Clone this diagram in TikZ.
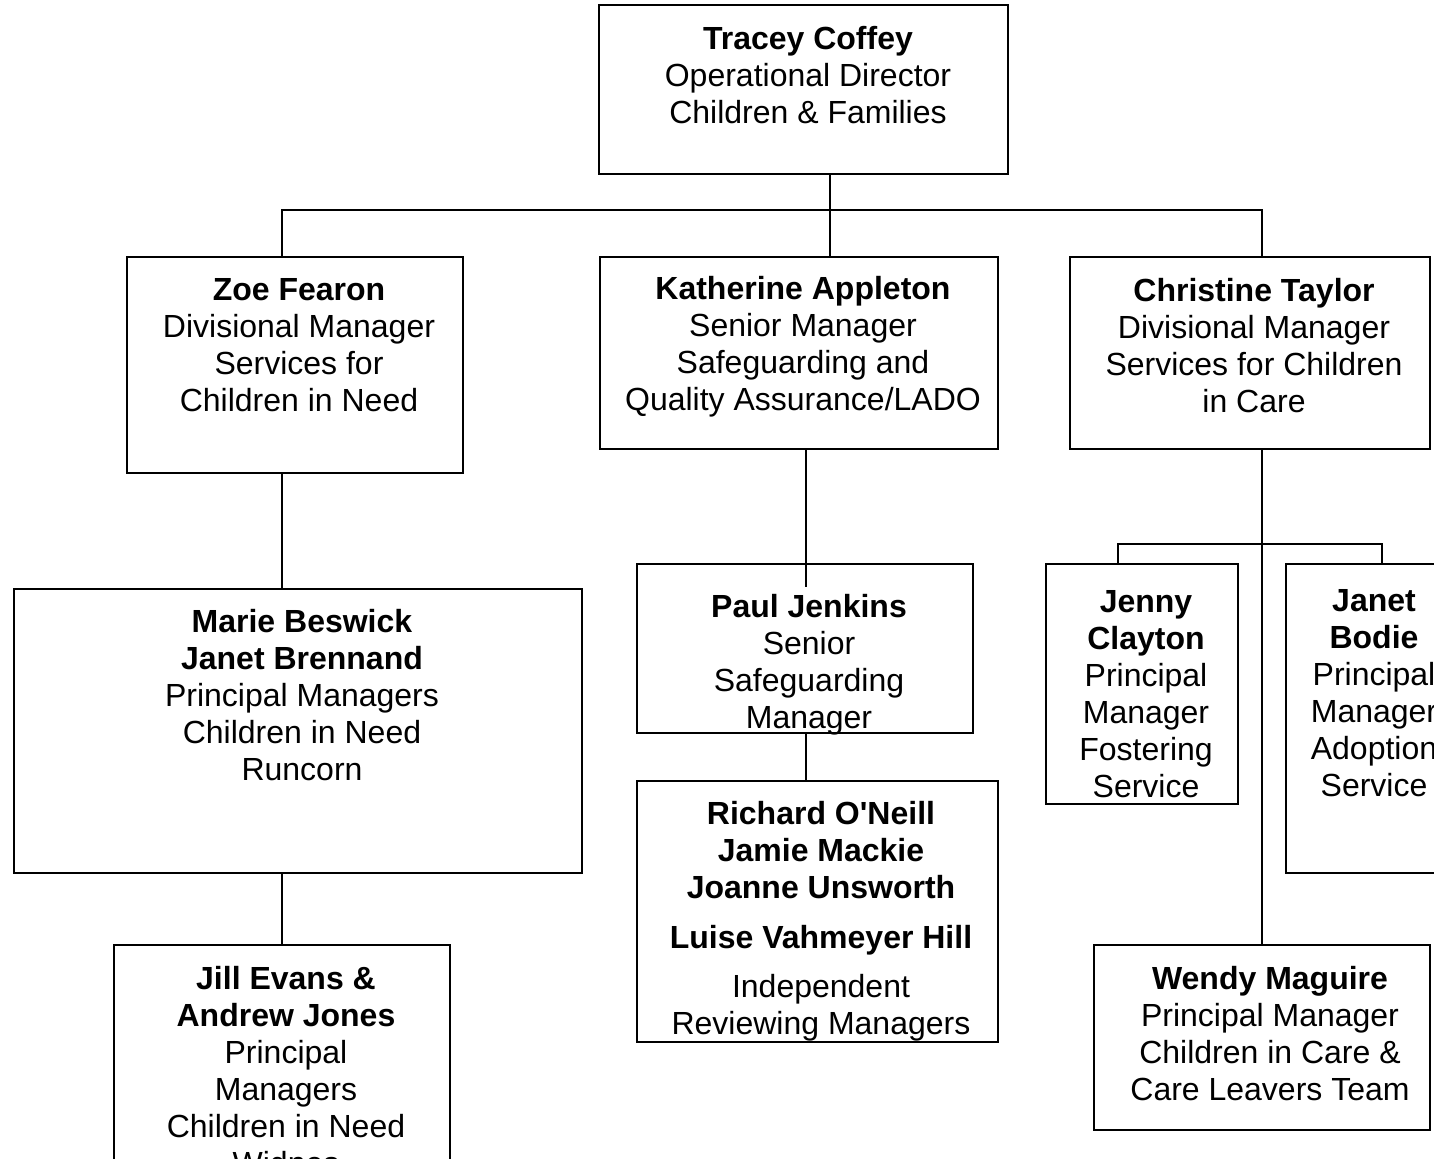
\documentclass[tikz,border=0pt]{standalone}
\usepackage{fontspec}
\setmainfont{Liberation Sans}[Ligatures=TeXOff]
\usetikzlibrary{fit}

\begin{document}
\begin{tikzpicture}[x=0.5pt,y=-0.5pt,line width=1.1pt,
  box/.style={draw,inner sep=0pt,line width=1.1pt},
  txt/.style={align=center,inner sep=0pt,font=\fontsize{16}{18.5}\selectfont}]
  \useasboundingbox (0,0) rectangle (1434,1158);
  \clip (0,0) rectangle (1434,1158);

  % director
  \node[box,fit={(599,5) (1008,174)}] (tracey) {};
  \node[txt] (traceyt) at (808,75) {\textbf{Tracey Coffey}\\Operational Director\\Children \& Families};

  % divisional / senior managers
  \node[box,fit={(127,257) (463,473)}] (zoe) {};
  \node[txt] (zoet) at (299,345) {\textbf{Zoe Fearon}\\Divisional Manager\\Services for\\Children in Need};
  \node[box,fit={(600,257) (998,449)}] (katherine) {};
  \node[txt] (katherinet) at (803,347) {\textbf{Katherine Appleton}\\Senior Manager\\Safeguarding and\\Quality Assurance/LADO};
  \node[box,fit={(1070,257) (1430,449)}] (christine) {};
  \node[txt] (christinet) at (1254,346) {\textbf{Christine Taylor}\\Divisional Manager\\Services for Children\\in Care};

  % children in need branch
  \node[box,fit={(14,589) (582,873)}] (marie) {};
  \node[txt] (mariet) at (302,695) {\textbf{Marie Beswick}\\\textbf{Janet Brennand}\\Principal Managers\\Children in Need\\Runcorn};
  \node[box,fit={(114,945) (450,1220)}] (jill) {};
  \node[txt] (jillt) at (286,1071) {\textbf{Jill Evans \&}\\\textbf{Andrew Jones}\\Principal\\Managers\\Children in Need\\Widnes};

  % safeguarding branch
  \node[box,fit={(637,564) (973,733)}] (paul) {};
  \node[txt] (pault) at (809,665) {\textbf{Paul Jenkins}\\Senior\\Safeguarding\\Manager};
  \node[box,fit={(637,781) (998,1042)}] (richard) {};
  \node[txt] (richardt) at (821,921) {\textbf{Richard O'Neill}\\\textbf{Jamie Mackie}\\\textbf{Joanne Unsworth}\\[6.5pt]\textbf{Luise Vahmeyer Hill}\\[6pt]Independent\\Reviewing Managers};

  % children in care branch
  \node[box,fit={(1046,564) (1238,804)}] (jenny) {};
  \node[txt] (jennyt) at (1146,694) {\textbf{Jenny}\\\textbf{Clayton}\\Principal\\Manager\\Fostering\\Service};
  \node[box,fit={(1286,564) (1470,873)}] (janet) {};
  \node[txt] (janett) at (1374,693) {\textbf{Janet}\\\textbf{Bodie}\\Principal\\Manager\\Adoption\\Service};
  \node[box,fit={(1094,945) (1430,1130)}] (wendy) {};
  \node[txt] (wendyt) at (1270,1034) {\textbf{Wendy Maguire}\\Principal Manager\\Children in Care \&\\Care Leavers Team};

  % top level lines
  \coordinate (hub) at (830,210);
  \coordinate (zoedrop) at (282,210);
  \coordinate (chrisdrop) at (1262,210);
  \draw (hub |- tracey.south) -- (hub |- katherine.north);
  \draw (zoedrop |- zoe.north) -- (zoedrop) -- (chrisdrop) -- (chrisdrop |- christine.north);

  % left spine
  \coordinate (leftspine) at (282,0);
  \draw (leftspine |- zoe.south) -- (leftspine |- marie.north);
  \draw (leftspine |- marie.south) -- (leftspine |- jill.north);

  % middle spine (runs into Paul's box)
  \coordinate (midspine) at (806,587);
  \draw (midspine |- katherine.south) -- (midspine);
  \draw (midspine |- paul.south) -- (midspine |- richard.north);

  % right spine and bracket
  \coordinate (rightspine) at (1262,544);
  \coordinate (jennydrop) at (1118,544);
  \coordinate (janetdrop) at (1382,544);
  \draw (rightspine |- christine.south) -- (rightspine |- wendy.north);
  \draw (jennydrop |- jenny.north) -- (jennydrop) -- (janetdrop) -- (janetdrop |- janet.north);
\end{tikzpicture}
\end{document}
